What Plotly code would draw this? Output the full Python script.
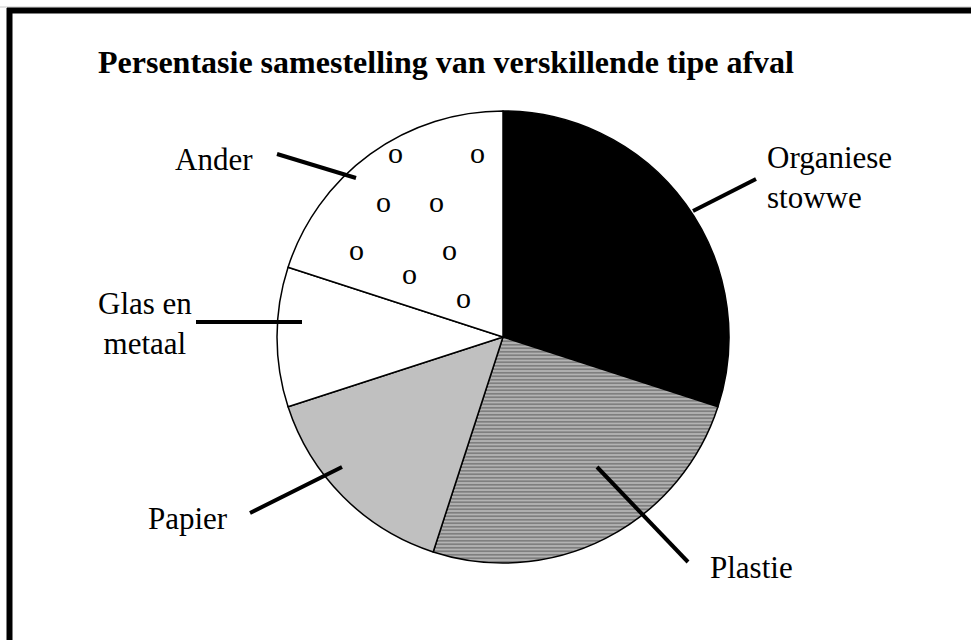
import plotly.graph_objects as go

W, H = 971, 640

categories = ["Organiese stowwe", "Plastie", "Papier", "Glas en metaal", "Ander"]
percentages = [30, 25, 15, 10, 20]
label_texts = ["Organiese<br>stowwe", "Plastie", "Papier", "Glas en<br>metaal", "Ander"]
title_text = "Persentasie samestelling van verskillende tipe afval"

def px(x):
    return x / W

def py(y):
    return 1 - y / H

# pie geometry (pixels)
cx, cy, r = 503, 337, 226

fig = go.Figure()
fig.add_trace(go.Pie(
    labels=categories,
    values=percentages,
    sort=False,
    direction="clockwise",
    rotation=0,
    textinfo="none",
    hoverinfo="label+percent",
    showlegend=False,
    domain=dict(x=[px(cx - r), px(cx + r)], y=[py(cy + r), py(cy - r)]),
    marker=dict(
        colors=["#000000", "#ffffff", "#c0c0c0", "#ffffff", "#ffffff"],
        line=dict(color="#000000", width=1.5),
        pattern=dict(
            shape=["", "-", "", "", ""],
            fgcolor="#000000",
            bgcolor=["#000000", "#ffffff", "#c0c0c0", "#ffffff", "#ffffff"],
            size=3.5,
            solidity=0.8,
            fillmode="overlay",
        ),
    ),
))

font_family = "Liberation Serif, Times New Roman, serif"

# label placements (pixel centres, anchor, alignment) and leader lines
label_pos = [
    (765, 178, "left", "left"),
    (751, 567, "center", "center"),
    (188, 518, "center", "center"),
    (145, 323, "center", "center"),
    (214, 159, "center", "center"),
]
leader_lines = [
    ((756, 179), (693, 211)),
    ((597, 467), (688, 562)),
    ((250, 513), (342, 467)),
    ((196, 322), (302, 322)),
    ((277, 154), (356, 178)),
]

annotations = []
for txt, (x, y, xa, al) in zip(label_texts, label_pos):
    annotations.append(dict(
        x=px(x), y=py(y), xref="paper", yref="paper", text=txt,
        showarrow=False, xanchor=xa, yanchor="middle", align=al,
        font=dict(family=font_family, size=31, color="#000000"),
    ))

# decorative "o" fill texture in the "Ander" slice
o_marks = [(395, 153), (477, 153), (383, 201), (436, 201),
           (356, 249), (449, 249), (409, 273), (463, 297)]
for (x, y) in o_marks:
    annotations.append(dict(
        x=px(x), y=py(y), xref="paper", yref="paper", text="o",
        showarrow=False, xanchor="center", yanchor="middle",
        font=dict(family=font_family, size=30, color="#000000"),
    ))

# title
annotations.append(dict(
    x=px(96), y=py(62), xref="paper", yref="paper", text="<b>" + title_text + "</b>",
    showarrow=False, xanchor="left", yanchor="middle",
    font=dict(family=font_family, size=32, color="#000000"),
))

shapes = []
for (x0, y0), (x1, y1) in leader_lines:
    shapes.append(dict(type="line", xref="paper", yref="paper",
                       x0=px(x0), y0=py(y0), x1=px(x1), y1=py(y1),
                       line=dict(color="#000000", width=4)))

# frame (top and left edges)
shapes.append(dict(type="line", xref="paper", yref="paper",
                   x0=0, y0=py(7), x1=1, y1=py(7),
                   line=dict(color="#c8c8c8", width=1)))
shapes.append(dict(type="line", xref="paper", yref="paper",
                   x0=px(7), y0=py(10.5), x1=1, y1=py(10.5),
                   line=dict(color="#000000", width=6)))
shapes.append(dict(type="line", xref="paper", yref="paper",
                   x0=px(9.5), y0=py(8), x1=px(9.5), y1=0,
                   line=dict(color="#000000", width=6)))

fig.update_layout(
    width=W, height=H,
    autosize=False,
    margin=dict(l=0, r=0, t=0, b=0),
    paper_bgcolor="#ffffff",
    plot_bgcolor="#ffffff",
    annotations=annotations,
    shapes=shapes,
)

fig.write_html(
    "out.html",
    config={"displayModeBar": False},
    post_script="document.body.style.margin='0px';document.body.style.padding='0px';",
)
